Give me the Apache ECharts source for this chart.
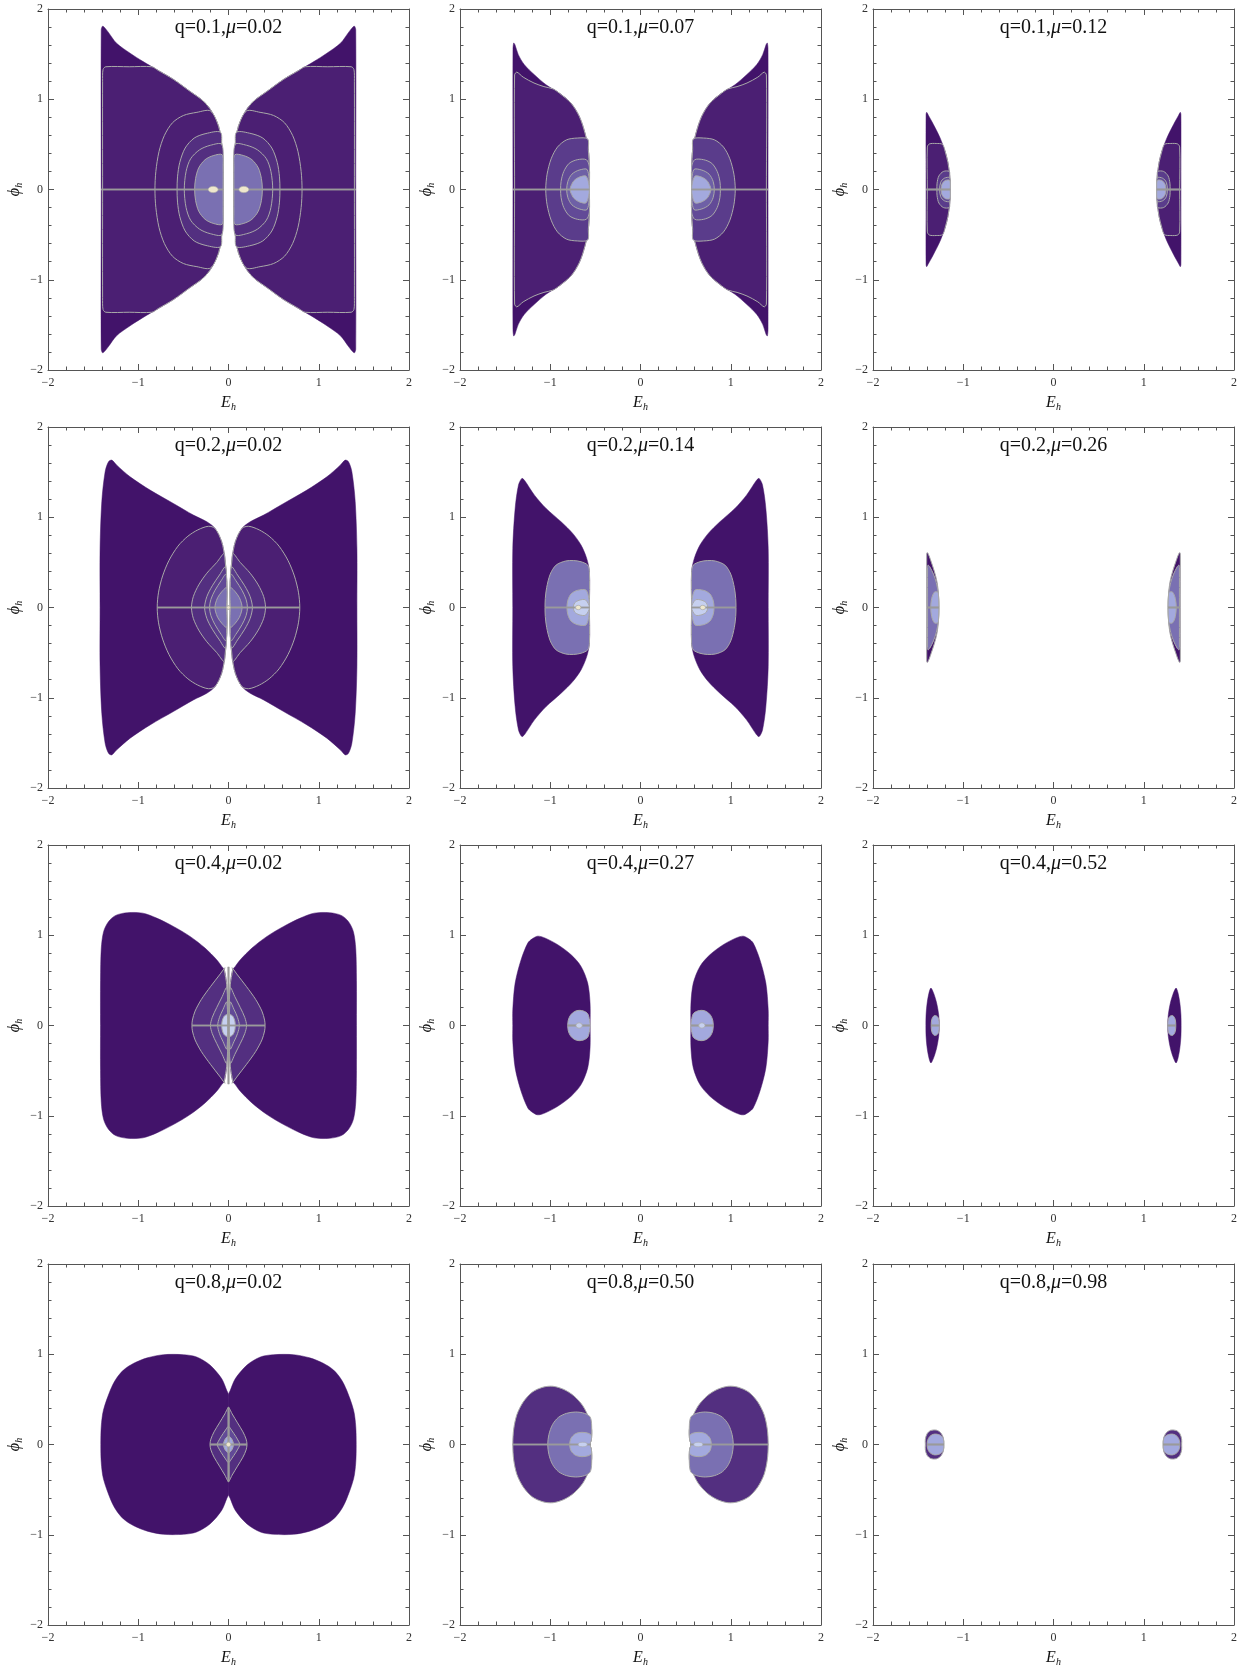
<!DOCTYPE html>
<html>
<head>
<meta charset="utf-8">
<title>Phase portraits</title>
<script src="https://cdn.jsdelivr.net/npm/echarts@6/dist/echarts.min.js"></script>
<style>
  html, body { margin: 0; padding: 0; background: #fff; }
  #main { width: 1241px; height: 1671px; }
</style>
</head>
<body>
<div id="main"></div>
<script>
// panel labels, row by row
const titles = ['q=0.1,μ=0.02', 'q=0.1,μ=0.07', 'q=0.1,μ=0.12',
  'q=0.2,μ=0.02', 'q=0.2,μ=0.14', 'q=0.2,μ=0.26',
  'q=0.4,μ=0.02', 'q=0.4,μ=0.27', 'q=0.4,μ=0.52',
  'q=0.8,μ=0.02', 'q=0.8,μ=0.50', 'q=0.8,μ=0.98']
const axisRange = [-2, 2]

// every lobe is given as the upper half of the right-hand lobe, [E_h, phi_h],
// from the inner side at phi=0 round to the outer side at phi=0.
// rings are contour arcs that leave the inner edge and come back to phi=0.

// q=0.1 mu=0.02
const edgeA1 = [[0.06, 0], [0.06, 0.25], [0.075, 0.5], [0.11, 0.7], [0.19, 0.87], [0.28, 0.98], [0.43, 1.09], [0.61, 1.22], [0.78, 1.32], [0.95, 1.42], [1.09, 1.51], [1.24, 1.62], [1.33, 1.74], [1.37, 1.79], [1.395, 1.81], [1.41, 1.77], [1.41, 0]]
const ringsA1 = [
  [[0.85, 1.36], [1.1, 1.36], [1.36, 1.36], [1.39, 1.33], [1.395, 1.2], [1.395, 0]],
  [[0.2, 0.87], [0.35, 0.855], [0.5, 0.82], [0.62, 0.74], [0.71, 0.6], [0.77, 0.42], [0.805, 0.2], [0.815, 0]],
  [[0.09, 0.635], [0.25, 0.62], [0.38, 0.57], [0.48, 0.46], [0.54, 0.3], [0.565, 0.14], [0.57, 0]],
  [[0.075, 0.5], [0.2, 0.49], [0.32, 0.44], [0.42, 0.34], [0.47, 0.2], [0.49, 0]],
  [[0.07, 0.385], [0.17, 0.375], [0.26, 0.33], [0.33, 0.24], [0.365, 0.12], [0.375, 0]]
]
const levelsA1 = [0, 1, 1, 2, 2, 6]
const linesA1 = [[[0.06, 0], [1.41, 0]]]
const spotsA1 = [[0.17, 0, 0.055, 0.035, 9]]

// q=0.1 mu=0.07
const edgeA2 = [[0.567, 0], [0.567, 0.25], [0.578, 0.44], [0.615, 0.625], [0.678, 0.81], [0.77, 0.957], [0.9, 1.068], [1.047, 1.161], [1.176, 1.272], [1.287, 1.383], [1.354, 1.494], [1.391, 1.604], [1.405, 1.623], [1.413, 1.55], [1.413, 0]]
const ringsA2 = [
  [[0.97, 1.115], [1.07, 1.14], [1.18, 1.18], [1.3, 1.245], [1.37, 1.3], [1.395, 1.27], [1.395, 0]],
  [[0.585, 0.56], [0.7, 0.57], [0.82, 0.55], [0.92, 0.47], [0.99, 0.34], [1.035, 0.17], [1.05, 0]],
  [[0.6, 0.33], [0.7, 0.33], [0.79, 0.29], [0.85, 0.2], [0.88, 0.09], [0.885, 0]],
  [[0.59, 0.22], [0.68, 0.215], [0.76, 0.17], [0.805, 0.09], [0.818, 0]],
  [[0.6, 0.145], [0.67, 0.14], [0.735, 0.1], [0.77, 0.04], [0.78, 0]]
]
const levelsA2 = [0, 1, 3, 4, 5, 7]
const linesA2 = [[[0.567, 0], [1.413, 0]]]
const spotsA2 = []

// q=0.1 mu=0.12
const edgeA3 = [[1.145, 0], [1.15, 0.15], [1.17, 0.3], [1.2, 0.42], [1.26, 0.58], [1.33, 0.72], [1.385, 0.82], [1.405, 0.855], [1.412, 0.83], [1.412, 0]]
const ringsA3 = [
  [[1.23, 0.5], [1.3, 0.51], [1.375, 0.505], [1.398, 0.47], [1.398, 0]],
  [[1.155, 0.2], [1.22, 0.2], [1.27, 0.15], [1.29, 0.07], [1.292, 0]],
  [[1.15, 0.13], [1.21, 0.125], [1.25, 0.08], [1.262, 0]],
  [[1.15, 0.1], [1.2, 0.1], [1.235, 0.06], [1.245, 0]]
]
const levelsA3 = [0, 1, 3, 4, 7]
const linesA3 = [[[1.145, 0], [1.41, 0]]]
const spotsA3 = []

// q=0.2 mu=0.02
const edgeB1 = [[0.02, 0], [0.02, 0.286], [0.04, 0.544], [0.076, 0.73], [0.149, 0.876], [0.24, 0.95], [0.389, 1.024], [0.611, 1.153], [0.869, 1.301], [1.09, 1.448], [1.238, 1.577], [1.294, 1.633], [1.33, 1.614], [1.367, 1.504], [1.404, 1.172], [1.423, 0.655], [1.423, 0]]
const ringsB1 = [
  [[0.223, 0.9], [0.34, 0.86], [0.45, 0.79], [0.56, 0.68], [0.66, 0.52], [0.73, 0.35], [0.775, 0.17], [0.79, 0]],
  [[0.05, 0.6], [0.13, 0.5], [0.24, 0.38], [0.33, 0.25], [0.39, 0.12], [0.41, 0]],
  [[0.035, 0.45], [0.1, 0.36], [0.18, 0.24], [0.24, 0.12], [0.265, 0]],
  [[0.03, 0.37], [0.08, 0.3], [0.15, 0.19], [0.195, 0.09], [0.21, 0]],
  [[0.02, 0.22], [0.07, 0.18], [0.12, 0.11], [0.145, 0.04], [0.15, 0]]
]
const levelsB1 = [0, 1, 2, 3, 4, 6]
const linesB1 = [[[0.02, 0], [0.79, 0]]]
const spotsB1 = [[0, 0, 0.02, 0.02, 9]]

// q=0.2 mu=0.14
const edgeB2 = [[0.566, 0], [0.566, 0.397], [0.596, 0.544], [0.659, 0.692], [0.751, 0.821], [0.88, 0.95], [1.046, 1.098], [1.175, 1.245], [1.286, 1.41], [1.315, 1.43], [1.352, 1.356], [1.389, 1.098], [1.415, 0.655], [1.415, 0]]
const ringsB2 = [
  [[0.585, 0.47], [0.659, 0.507], [0.74, 0.52], [0.83, 0.515], [0.935, 0.47], [1.0, 0.37], [1.04, 0.22], [1.055, 0.1], [1.058, 0]],
  [[0.6, 0.19], [0.7, 0.19], [0.77, 0.15], [0.805, 0.08], [0.815, 0]],
  [[0.61, 0.085], [0.68, 0.08], [0.73, 0.05], [0.745, 0]]
]
const levelsB2 = [0, 6, 7, 8]
const linesB2 = [[[0.566, 0], [1.058, 0]]]
const spotsB2 = [[0.69, 0, 0.03, 0.025, 9]]

// q=0.2 mu=0.26
const edgeB3 = [[1.27, 0], [1.275, 0.15], [1.29, 0.28], [1.32, 0.4], [1.36, 0.52], [1.39, 0.6], [1.402, 0.607], [1.405, 0.58], [1.405, 0]]
const ringsB3 = [
  [[1.3, 0.28], [1.33, 0.37], [1.37, 0.45], [1.39, 0.47], [1.395, 0.44], [1.395, 0]],
  [[1.28, 0.17], [1.32, 0.17], [1.35, 0.1], [1.36, 0]]
]
const levelsB3 = [0, 6, 7]
const linesB3 = [[[1.27, 0], [1.4, 0]]]
const spotsB3 = []

// q=0.4 mu=0.02
const edgeC1 = [[0.01, 0], [0.02, 0.45], [0.046, 0.618], [0.075, 0.655], [0.131, 0.729], [0.26, 0.858], [0.426, 0.987], [0.611, 1.098], [0.796, 1.19], [0.95, 1.245], [1.12, 1.25], [1.25, 1.22], [1.33, 1.15], [1.384, 1.04], [1.41, 0.85], [1.418, 0.5], [1.418, 0]]
const ringsC1 = [
  [[0.04, 0.64], [0.1, 0.56], [0.2, 0.43], [0.3, 0.29], [0.37, 0.16], [0.4, 0.06], [0.405, 0]],
  [[0.02, 0.42], [0.07, 0.32], [0.13, 0.2], [0.18, 0.09], [0.2, 0]],
  [[0.02, 0.26], [0.06, 0.18], [0.1, 0.09], [0.12, 0]],
  [[0.015, 0.12], [0.05, 0.1], [0.07, 0.05], [0.075, 0]]
]
const levelsC1 = [0, 2, 3, 4, 8]
const linesC1 = [[[0, 0], [0.405, 0]], [[0, 0], [0, 0.65]]]
const spotsC1 = []

// q=0.4 mu=0.27
const edgeC2 = [[0.558, 0], [0.559, 0.249], [0.585, 0.47], [0.659, 0.655], [0.769, 0.784], [0.917, 0.895], [1.06, 0.97], [1.138, 0.99], [1.2, 0.96], [1.249, 0.913], [1.323, 0.729], [1.389, 0.47], [1.415, 0.175], [1.415, 0]]
const ringsC2 = [
  [[0.565, 0.06], [0.585, 0.13], [0.63, 0.16], [0.68, 0.168], [0.73, 0.155], [0.775, 0.115], [0.8, 0.06], [0.806, 0]]
]
const levelsC2 = [0, 7]
const linesC2 = [[[0.56, 0], [0.805, 0]]]
const spotsC2 = [[0.68, 0, 0.035, 0.03, 8]]

// q=0.4 mu=0.52
const edgeC3 = [[1.265, 0], [1.272, 0.12], [1.295, 0.25], [1.325, 0.35], [1.358, 0.415], [1.38, 0.36], [1.4, 0.25], [1.412, 0.12], [1.414, 0]]
const ringsC3 = [
  [[1.275, 0.08], [1.295, 0.105], [1.318, 0.11], [1.34, 0.09], [1.352, 0.05], [1.355, 0]]
]
const levelsC3 = [0, 7]
const linesC3 = [[[1.265, 0], [1.355, 0]]]
const spotsC3 = []

// q=0.8 mu=0.02
const edgeD1 = [[0, 0], [0, 0.55], [0.02, 0.6], [0.076, 0.73], [0.205, 0.88], [0.354, 0.97], [0.5, 0.995], [0.72, 0.995], [0.9, 0.96], [1.05, 0.9], [1.164, 0.825], [1.25, 0.72], [1.31, 0.6], [1.386, 0.38], [1.41, 0.2], [1.415, 0]]
const ringsD1 = [
  [[0, 0.41], [0.04, 0.34], [0.1, 0.24], [0.16, 0.14], [0.195, 0.06], [0.205, 0]],
  [[0, 0.2], [0.04, 0.15], [0.08, 0.09], [0.115, 0.03], [0.125, 0]],
  [[0, 0.09], [0.03, 0.07], [0.05, 0.03], [0.055, 0]]
]
const levelsD1 = [0, 2, 4, 7]
const linesD1 = [[[0, 0], [0.205, 0]], [[0, 0], [0, 0.41]]]
const spotsD1 = [[0, 0, 0.025, 0.025, 9]]

// q=0.8 mu=0.50
const edgeD2 = [[0.56, 0], [0.545, 0.05], [0.54, 0.16], [0.575, 0.3], [0.64, 0.43], [0.74, 0.54], [0.85, 0.61], [0.97, 0.645], [1.08, 0.635], [1.2, 0.58], [1.3, 0.47], [1.37, 0.33], [1.405, 0.17], [1.415, 0]]
const ringsD2 = [
  [[0.555, 0.3], [0.62, 0.345], [0.72, 0.36], [0.82, 0.345], [0.91, 0.3], [0.975, 0.22], [1.015, 0.11], [1.028, 0]],
  [[0.545, 0.1], [0.58, 0.125], [0.65, 0.135], [0.72, 0.12], [0.77, 0.07], [0.785, 0]]
]
const levelsD2 = [2, 6, 7]
const linesD2 = [[[0.55, 0], [1.415, 0]]]
const spotsD2 = [[0.64, 0, 0.05, 0.025, 8]]

// q=0.8 mu=0.98
const edgeD3 = [[1.215, 0], [1.22, 0.07], [1.25, 0.13], [1.3, 0.16], [1.36, 0.155], [1.4, 0.12], [1.42, 0.06], [1.42, 0]]
const ringsD3 = [
  [[1.222, 0.07], [1.26, 0.105], [1.32, 0.115], [1.37, 0.09], [1.395, 0.045], [1.4, 0]]
]
const levelsD3 = [2, 7]
const linesD3 = [[[1.215, 0], [1.4, 0]]]
const spotsD3 = []

const panels = [
  { edge: edgeA1, rings: ringsA1, levels: levelsA1, lines: linesA1, spots: spotsA1 },
  { edge: edgeA2, rings: ringsA2, levels: levelsA2, lines: linesA2, spots: spotsA2 },
  { edge: edgeA3, rings: ringsA3, levels: levelsA3, lines: linesA3, spots: spotsA3 },
  { edge: edgeB1, rings: ringsB1, levels: levelsB1, lines: linesB1, spots: spotsB1 },
  { edge: edgeB2, rings: ringsB2, levels: levelsB2, lines: linesB2, spots: spotsB2 },
  { edge: edgeB3, rings: ringsB3, levels: levelsB3, lines: linesB3, spots: spotsB3 },
  { edge: edgeC1, rings: ringsC1, levels: levelsC1, lines: linesC1, spots: spotsC1 },
  { edge: edgeC2, rings: ringsC2, levels: levelsC2, lines: linesC2, spots: spotsC2 },
  { edge: edgeC3, rings: ringsC3, levels: levelsC3, lines: linesC3, spots: spotsC3 },
  { edge: edgeD1, rings: ringsD1, levels: levelsD1, lines: linesD1, spots: spotsD1 },
  { edge: edgeD2, rings: ringsD2, levels: levelsD2, lines: linesD2, spots: spotsD2 },
  { edge: edgeD3, rings: ringsD3, levels: levelsD3, lines: linesD3, spots: spotsD3 }
]

// ---- styling ----
const palette = ['#42136a', '#4b1f73', '#532f80', '#5a3c8b', '#624a97', '#6e60a6', '#7a70b2', '#a3a9de', '#c6d0f0', '#efe8cd']
const contourGrey = '#a9a9a9'
const frameColor = '#555'
const serif = '"Liberation Serif", "DejaVu Serif", serif'
const outlined = [false, false, false, false, false, true, false, false, false, false, true, true]
const colLeft = [48, 460, 873]
const rowTop = [9, 427, 845, 1264]
const boxSize = 361

// closes an upper half into a full lobe by reflecting it in phi=0
function mirrorHalf (half) {
  const lower = half.slice(1, -1).reverse().map(p => [p[0], -p[1]])
  return half.concat(lower)
}
// a ring follows the lobe's inner edge up to where its arc starts
function ringHalf (edge, arc) {
  const start = arc[0][1]
  const pre = []
  for (const p of edge) {
    if (p[1] < start) pre.push(p)
    else break
  }
  return pre.concat(arc)
}

function buildMarks (p, outline) {
  const marks = []
  const base = mirrorHalf(p.edge)
  ;[1, -1].forEach(s => marks.push({ kind: 'poly', pts: base.map(q => [s * q[0], q[1]]), level: p.levels[0], stroke: outline }))
  p.rings.forEach((arc, k) => {
    const ring = mirrorHalf(ringHalf(p.edge, arc))
    ;[1, -1].forEach(s => marks.push({ kind: 'poly', pts: ring.map(q => [s * q[0], q[1]]), level: p.levels[k + 1], stroke: true }))
  })
  p.lines.forEach(seg => {
    ;[1, -1].forEach(sx => [1, -1].forEach(sy => marks.push({ kind: 'line', pts: seg.map(q => [sx * q[0], sy * q[1]]) })))
  })
  p.spots.forEach(sp => {
    ;[1, -1].forEach(sx => marks.push({ kind: 'spot', c: [sx * sp[0], sp[1]], r: [sp[2], sp[3]], level: sp[4] }))
  })
  return marks
}

const minus = v => (v < 0 ? '\u2212' + Math.abs(v) : String(v))

function axisCommon (gridIndex) {
  return {
    gridIndex: gridIndex,
    type: 'value',
    min: axisRange[0],
    max: axisRange[1],
    interval: 1,
    axisLine: { show: true, onZero: false, lineStyle: { color: frameColor, width: 1 } },
    axisTick: { show: true, inside: true, length: 6, lineStyle: { color: frameColor, width: 1 } },
    minorTick: { show: true, splitNumber: 5, length: 3.5, lineStyle: { color: frameColor, width: 1 } },
    splitLine: { show: false },
    minorSplitLine: { show: false }
  }
}

const nameRich = {
  e: { fontFamily: serif, fontStyle: 'italic', fontSize: 16, lineHeight: 18, color: '#111' },
  s: { fontFamily: serif, fontStyle: 'italic', fontSize: 10, lineHeight: 10, verticalAlign: 'bottom', color: '#111' }
}

const grids = []
const xAxes = []
const yAxes = []
const series = []
const graphics = []

panels.forEach((p, i) => {
  const r = Math.floor(i / 3)
  const c = i % 3
  const left = colLeft[c]
  const top = rowTop[r]
  grids.push({ left: left, top: top, width: boxSize, height: boxSize, containLabel: false, outerBoundsMode: 'none' })

  xAxes.push(Object.assign(axisCommon(i), {
    position: 'bottom',
    axisLabel: { formatter: minus, fontFamily: serif, fontSize: 12, color: '#333', margin: 7 },
    name: '{e|E}{s|h}',
    nameLocation: 'middle',
    nameGap: 24,
    nameTextStyle: { rich: nameRich }
  }))
  xAxes.push(Object.assign(axisCommon(i), { position: 'top', axisLabel: { show: false } }))
  yAxes.push(Object.assign(axisCommon(i), {
    position: 'left',
    axisLabel: { formatter: minus, fontFamily: serif, fontSize: 12, color: '#333', margin: 5 },
    name: '{e|ϕ}{s|h}',
    nameLocation: 'middle',
    nameRotate: 90,
    nameGap: 24,
    nameTextStyle: { rich: nameRich }
  }))
  yAxes.push(Object.assign(axisCommon(i), { position: 'right', axisLabel: { show: false } }))

  const marks = buildMarks(p, outlined[i])
  series.push({
    type: 'custom',
    coordinateSystem: 'cartesian2d',
    xAxisIndex: 2 * i,
    yAxisIndex: 2 * i,
    clip: true,
    silent: true,
    data: marks.map(() => [0, 0]),
    renderItem: function (params, api) {
      const m = marks[params.dataIndex]
      if (m.kind === 'poly') {
        return {
          type: 'polygon',
          shape: { points: m.pts.map(q => api.coord(q)), smooth: 0.3 },
          style: { fill: palette[m.level], stroke: m.stroke ? contourGrey : palette[m.level], lineWidth: m.stroke ? 1 : 0.5 }
        }
      }
      if (m.kind === 'line') {
        return {
          type: 'polyline',
          shape: { points: m.pts.map(q => api.coord(q)) },
          style: { stroke: '#9a9a9a', lineWidth: 1.7, fill: 'none' }
        }
      }
      const ctr = api.coord(m.c)
      const sz = api.size(m.r)
      return {
        type: 'circle',
        x: ctr[0],
        y: ctr[1],
        scaleY: sz[1] / sz[0],
        shape: { cx: 0, cy: 0, r: sz[0] },
        style: { fill: palette[m.level], stroke: contourGrey, lineWidth: 0.8 }
      }
    }
  })

  const parts = titles[i].split('μ')
  graphics.push({
    type: 'text',
    x: left + boxSize / 2,
    y: top + 18.5,
    silent: true,
    style: {
      text: '{n|' + parts[0] + '}{m|μ}{n|' + parts[1] + '}',
      align: 'center',
      verticalAlign: 'middle',
      rich: {
        n: { fontFamily: serif, fontSize: 20, fill: '#111' },
        m: { fontFamily: serif, fontSize: 20, fontStyle: 'italic', fill: '#111' }
      }
    }
  })
})

const chart = echarts.init(document.getElementById('main'), null, { renderer: 'canvas' })
chart.setOption({
  animation: false,
  backgroundColor: '#ffffff',
  textStyle: { fontFamily: serif },
  grid: grids,
  xAxis: xAxes,
  yAxis: yAxes,
  series: series,
  graphic: graphics
})
</script>
</body>
</html>
